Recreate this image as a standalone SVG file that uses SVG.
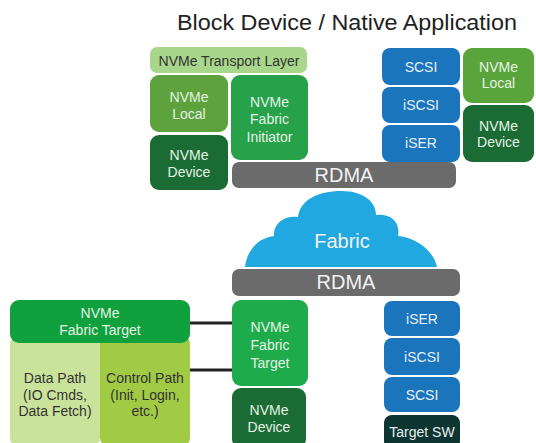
<svg xmlns="http://www.w3.org/2000/svg" width="536" height="443" viewBox="0 0 536 443">
<style>
text{font-family:"Liberation Sans",Arial,sans-serif;text-anchor:middle}
.w{fill:#e4f3e4;font-size:14px}
.wb{fill:#e6f0fa;font-size:14px}
.d{fill:#333333;font-size:14px}
.big{fill:#f2f2f2;font-size:20px}
.conn{stroke:#222222;stroke-width:3;fill:none}
</style>
<rect width="536" height="443" fill="#ffffff"/>
<text x="347" y="30" textLength="340" lengthAdjust="spacingAndGlyphs" style="font-size:22px;fill:#222222">Block Device / Native Application</text>

<g id="connectors">
<line class="conn" x1="190" y1="323" x2="232" y2="323"/>
<line class="conn" x1="190" y1="370" x2="232" y2="370"/>
</g>

<g id="transport-layer">
<rect x="150" y="47" width="157" height="26" rx="7" fill="#a8d78c"/>
<text class="d" x="229" y="66">NVMe Transport Layer</text>
</g>
<g id="nvme-local-left">
<rect x="150" y="75" width="78" height="57" rx="9" fill="#5da23d"/>
<text class="w" x="189" y="102">NVMe</text>
<text class="w" x="189" y="119">Local</text>
</g>
<g id="nvme-device-left">
<rect x="150" y="135" width="78" height="55" rx="9" fill="#1b6b34"/>
<text class="w" x="189" y="160">NVMe</text>
<text class="w" x="189" y="177">Device</text>
</g>
<g id="nvme-fabric-initiator">
<rect x="231" y="75" width="77" height="85" rx="9" fill="#27a24a"/>
<text class="w" x="269.5" y="107">NVMe</text>
<text class="w" x="269.5" y="124">Fabric</text>
<text class="w" x="269.5" y="142">Initiator</text>
</g>
<g id="rdma-top">
<rect x="232" y="162" width="224" height="26" rx="7" fill="#6b6b6b"/>
<text class="big" x="344" y="182">RDMA</text>
</g>
<g id="scsi-top">
<rect x="382" y="48" width="78" height="37" rx="8" fill="#1b75bc"/>
<text class="wb" x="421" y="72">SCSI</text>
</g>
<g id="iscsi-top">
<rect x="382" y="87" width="78" height="36" rx="8" fill="#1b75bc"/>
<text class="wb" x="421" y="110">iSCSI</text>
</g>
<g id="iser-top">
<rect x="382" y="125" width="78" height="37" rx="8" fill="#1b75bc"/>
<text class="wb" x="421" y="148">iSER</text>
</g>
<g id="nvme-local-right">
<rect x="463" y="48" width="71" height="55" rx="9" fill="#5aa53b"/>
<text class="w" x="498.5" y="72">NVMe</text>
<text class="w" x="498.5" y="88">Local</text>
</g>
<g id="nvme-device-right">
<rect x="463" y="105" width="71" height="57" rx="9" fill="#1b6b34"/>
<text class="w" x="498.5" y="131">NVMe</text>
<text class="w" x="498.5" y="147">Device</text>
</g>

<g id="fabric">
<path d="M245,267 C247,250 258,238 274,236 C273,224 284,215 298,217 C300,200 318,191 341,191 C364,191 376,202 376,215 C390,213 401,222 398,236 C418,238 434,252 437,267 Z" fill="#22a8e0"/>
<text class="big" x="342" y="248">Fabric</text>
</g>
<g id="rdma-bottom">
<rect x="232" y="269" width="228" height="27" rx="7" fill="#6b6b6b"/>
<text class="big" x="346" y="289">RDMA</text>
</g>

<g id="data-path">
<rect x="10" y="336" width="90" height="110" rx="8" fill="#c9e39a"/>
<text class="d" x="55" y="383">Data Path</text>
<text class="d" x="55" y="400">(IO Cmds,</text>
<text class="d" x="55" y="416">Data Fetch)</text>
</g>
<g id="control-path">
<rect x="100" y="336" width="90" height="110" rx="8" fill="#a1ca45"/>
<text class="d" x="145" y="383">Control Path</text>
<text class="d" x="145" y="400">(Init, Login,</text>
<text class="d" x="145" y="416">etc.)</text>
</g>
<g id="nvme-fabric-target-left">
<rect x="10" y="300" width="180" height="43" rx="9" fill="#10a03e"/>
<text class="w" x="100" y="318">NVMe</text>
<text class="w" x="100" y="335">Fabric Target</text>
</g>
<g id="nvme-fabric-target-center">
<rect x="232" y="300" width="76" height="86" rx="9" fill="#1eab4b"/>
<text class="w" x="270" y="332">NVMe</text>
<text class="w" x="270" y="350">Fabric</text>
<text class="w" x="270" y="368">Target</text>
</g>
<g id="nvme-device-center">
<rect x="232" y="388" width="74" height="60" rx="9" fill="#1b6b34"/>
<text class="w" x="269" y="415">NVMe</text>
<text class="w" x="269" y="432">Device</text>
</g>
<g id="iser-bottom">
<rect x="384" y="301" width="76" height="35" rx="8" fill="#1b75bc"/>
<text class="wb" x="422" y="324">iSER</text>
</g>
<g id="iscsi-bottom">
<rect x="384" y="338" width="76" height="37" rx="8" fill="#1b75bc"/>
<text class="wb" x="422" y="362">iSCSI</text>
</g>
<g id="scsi-bottom">
<rect x="384" y="377" width="76" height="35" rx="8" fill="#1b75bc"/>
<text class="wb" x="422" y="400">SCSI</text>
</g>
<g id="target-sw">
<rect x="384" y="415" width="76" height="34" rx="8" fill="#0d3532"/>
<text class="wb" x="422" y="437" style="fill:#e8f0ee">Target SW</text>
</g>
</svg>
